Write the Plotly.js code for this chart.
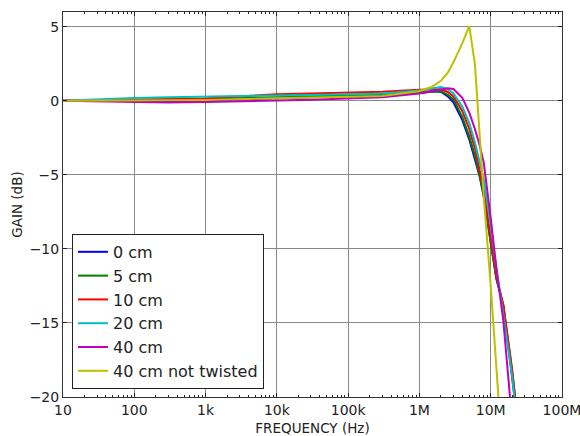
<!DOCTYPE html>
<html>
<head>
<meta charset="utf-8">
<script src="https://cdn.plot.ly/plotly-3.0.1.min.js"></script>
<style>html,body{margin:0;padding:0;background:#fff;}#chart{width:580px;height:436px;}</style>
</head>
<body>
<div id="chart"></div>
<script>
// Frequencies (Hz)
var freq = [10, 30, 100, 300, 1e3, 3e3, 1e4, 3e4, 1e5, 3e5, 1e6, 1.5e6, 2e6, 2.5e6, 3e6, 4e6, 5e6, 6e6, 7e6, 8e6, 1e7, 1.2e7, 1.5e7, 2e7, 2.5e7];

// Gain (dB) per cable configuration
var gain0cm  = [0, -0.02, -0.03, -0.02, 0.02, 0.1, 0.2, 0.25, 0.3, 0.38, 0.55, 0.65, 0.62, 0.3, -0.1, -1.3, -2.6, -3.9, -5.1, -6.5, -9.7, -12.0, -13.8, -18.3, -22.5];
var gain5cm  = [0, 0.02, 0.05, 0.08, 0.12, 0.18, 0.25, 0.3, 0.35, 0.42, 0.55, 0.62, 0.65, 0.4, 0.1, -1.1, -2.4, -3.7, -5.0, -6.3, -9.6, -12.0, -13.8, -18.2, -22.5];
var gain10cm = [0, 0.03, 0.07, 0.12, 0.16, 0.3, 0.44, 0.5, 0.55, 0.62, 0.75, 0.78, 0.78, 0.6, 0.3, -0.7, -1.9, -3.2, -4.6, -6.0, -9.2, -11.8, -13.8, -18.2, -22.5];
var gain20cm = [0, 0.1, 0.2, 0.25, 0.28, 0.3, 0.35, 0.4, 0.45, 0.5, 0.7, 0.85, 0.93, 0.8, 0.5, -0.4, -1.5, -2.8, -4.1, -5.3, -8.4, -11.3, -14.4, -18.6, -23.0];
var gain40cm = [0, -0.05, -0.1, -0.12, -0.08, -0.05, 0.02, 0.08, 0.15, 0.25, 0.5, 0.65, 0.8, 0.85, 0.8, 0.2, -0.8, -1.9, -3.0, -4.2, -7.9, -11.3, -14.8, -21.3, -27.0];
var gain40nt = [0, 0.0, 0.02, 0.04, 0.06, 0.12, 0.2, 0.24, 0.28, 0.33, 0.65, 0.95, 1.35, 1.9, 2.6, 3.9, 5.05, 2.5, -2.3, -6.5, -12.5, -18.5, -27.0, -35.0, -40.0];

var names  = ['0 cm', '5 cm', '10 cm', '20 cm', '40 cm', '40 cm not twisted'];
var series = [gain0cm, gain5cm, gain10cm, gain20cm, gain40cm, gain40nt];
var colors = ['#0000ff', '#008000', '#ff0000', '#00bfbf', '#bf00bf', '#bfbf00'];

var xTickVals = [10, 100, 1e3, 1e4, 1e5, 1e6, 1e7, 1e8];
var xTickText = ['10', '100', '1k', '10k', '100k', '1M', '10M', '100M'];
var yTickVals = [-20, -15, -10, -5, 0, 5];

var traces = series.map(function (g, i) {
  return {
    x: freq, y: g, name: names[i], type: 'scatter', mode: 'lines',
    line: {color: colors[i], width: 2}
  };
});

var font = 'DejaVu Sans, sans-serif';
var layout = {
  width: 580, height: 436,
  margin: {l: 63, r: 18, t: 12, b: 39},
  paper_bgcolor: '#fff', plot_bgcolor: '#fff',
  font: {family: font, size: 14, color: '#222'},
  showlegend: true,
  legend: {
    x: 0.018, y: 0.021, xanchor: 'left', yanchor: 'bottom',
    bgcolor: '#fff', bordercolor: '#222', borderwidth: 1,
    font: {family: font, size: 16, color: '#222'},
    tracegroupgap: 0
  },
  xaxis: {
    type: 'log', range: [1, 8], autorange: false,
    tickvals: xTickVals, ticktext: xTickText,
    ticklabeloverflow: 'allow',
    ticks: 'inside', ticklen: 4, tickcolor: '#222',
    minor: {ticks: 'inside', ticklen: 2, dtick: 'D1', tickcolor: '#222', showgrid: false},
    showline: true, linecolor: '#333', linewidth: 1, mirror: 'ticks',
    showgrid: true, gridcolor: '#888', gridwidth: 1,
    zeroline: false,
    tickfont: {family: font, size: 14, color: '#222'},
    title: {text: 'FREQUENCY (Hz)', font: {family: font, size: 13.5, color: '#222'}, standoff: 8}
  },
  yaxis: {
    range: [-20, 6], autorange: false,
    tickvals: yTickVals,
    ticks: 'inside', ticklen: 4, tickcolor: '#222',
    showline: true, linecolor: '#333', linewidth: 1, mirror: 'ticks',
    showgrid: true, gridcolor: '#888', gridwidth: 1,
    zeroline: false,
    tickfont: {family: font, size: 14, color: '#222'},
    title: {text: 'GAIN (dB)', font: {family: font, size: 13.5, color: '#222'}, standoff: 3}
  }
};

Plotly.newPlot('chart', traces, layout, {displayModeBar: false, staticPlot: true});
</script>
</body>
</html>
